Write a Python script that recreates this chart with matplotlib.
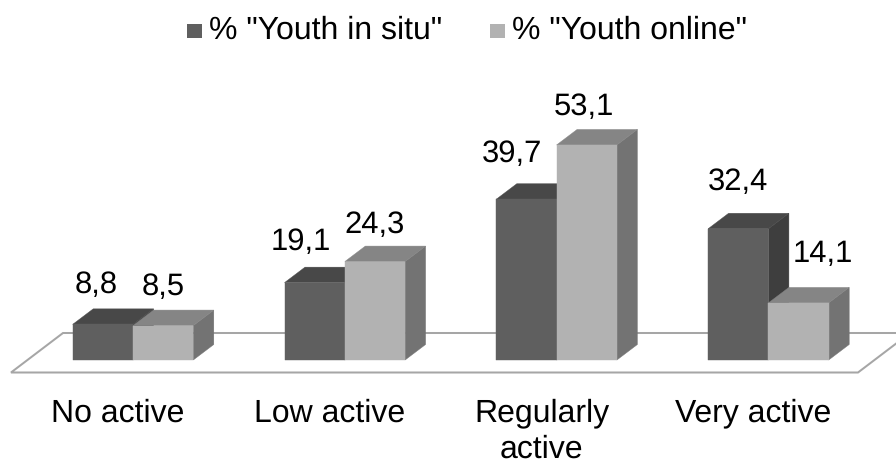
import numpy as np
import matplotlib
matplotlib.use("Agg")
import matplotlib.pyplot as plt
from matplotlib.patches import Polygon, Rectangle

plt.rcParams['font.family'] = ['Liberation Sans', 'DejaVu Sans']
plt.rcParams['text.hinting'] = 'no_hinting'
plt.rcParams['text.hinting_factor'] = 1

categories = ["No active", "Low active", "Regularly\nactive", "Very active"]
series_names = ['% "Youth in situ"', '% "Youth online"']
in_situ = [8.8, 19.1, 39.7, 32.4]
online = [8.5, 24.3, 53.1, 14.1]
value_labels_situ = ["8,8", "19,1", "39,7", "32,4"]
value_labels_online = ["8,5", "24,3", "53,1", "14,1"]

W, H = 896, 459
PX_X, PX_Y = 211.8, 4.05      # pixels per category / per percentage point
X0, Y0 = 133.0, 360.0         # pixel position of first group centre / baseline
BAR = 60.3 / PX_X
DX, DY = 20.5 / PX_X, 15.5 / PX_Y

fig = plt.figure(figsize=(W / 100, H / 100), dpi=100)
ax = fig.add_axes([0, 0, 1, 1])
ax.set_xlim(-X0 / PX_X, (W - X0) / PX_X)
ax.set_ylim((Y0 - H) / PX_Y, Y0 / PX_Y)
ax.axis('off')

# floor
fl = '#a6a6a6'
fl_y0, fl_y1 = -12.5 / PX_Y, 27 / PX_Y
fl_dx = 52 / PX_X
fl_l, fl_r = -122 / PX_X, 725 / PX_X
ax.add_patch(Polygon([(fl_l, fl_y0), (fl_r, fl_y0), (fl_r + fl_dx, fl_y1), (fl_l + fl_dx, fl_y1)],
                     closed=True, fc='white', ec=fl, lw=1.45, zorder=1))

styles = [dict(front='#5f5f5f', top='#484848', side='#3e3e3e'),
          dict(front='#b2b2b2', top='#858585', side='#737373')]


def bar3d(x, v, st, z):
    kw = dict(closed=True, lw=0.3, zorder=z)
    ax.add_patch(Polygon([(x + BAR, 0), (x + BAR + DX, DY), (x + BAR + DX, v + DY), (x + BAR, v)],
                         fc=st['side'], ec=st['side'], **kw))
    ax.add_patch(Polygon([(x, v), (x + BAR, v), (x + BAR + DX, v + DY), (x + DX, v + DY)],
                         fc=st['top'], ec=st['top'], **kw))
    ax.add_patch(Rectangle((x, 0), BAR, v, fc=st['front'], ec=st['front'], lw=0.3, zorder=z + 0.1))


for i in range(len(categories)):
    bar3d(i - BAR, in_situ[i], styles[0], 2 + i)
    bar3d(i, online[i], styles[1], 2.5 + i)

# value labels (pixel offsets from the bar's top centre)
situ_off = [(-7, 39), (-14, 41), (-14, 45), (0, 47)]
online_off = [(0, 39), (0, 37), (-3, 38), (24.5, 49)]
fs = 22.5
for i in range(len(categories)):
    ax.annotate(value_labels_situ[i], (i - BAR / 2, in_situ[i]), xytext=situ_off[i], textcoords='offset pixels',
                ha='center', va='center', fontsize=fs, color='black', zorder=20)
    ax.annotate(value_labels_online[i], (i + BAR / 2, online[i]), xytext=online_off[i], textcoords='offset pixels',
                ha='center', va='center', fontsize=fs, color='black', zorder=20)

# category labels
for i, c in enumerate(categories):
    ax.annotate(c, (i, 0), xytext=(-15, -38), textcoords='offset pixels', ha='center', va='top',
                fontsize=22.8, color='black', linespacing=1.28)

# legend
leg = [(187, series_names[0]), (490, series_names[1])]
for (px, name), st in zip(leg, styles):
    ax.add_patch(Rectangle((px, 421), 15, 14, transform=None, fc=st['front'], ec='none'))
    fig.text((px + 22) / W, 1 - 30 / H, name, ha='left', va='center', fontsize=23.2)

fig.savefig('out.png', dpi=100)
